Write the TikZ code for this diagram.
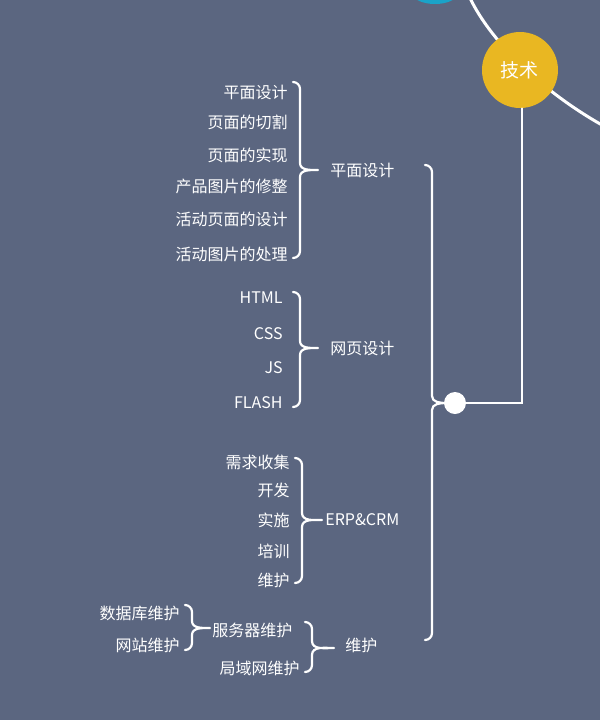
\documentclass[tikz,border=0pt]{standalone}
\usepackage{fontspec}
\setmainfont{Noto Sans CJK SC}
\begin{document}
\begin{tikzpicture}[x=0.5pt,y=-0.5pt,
  txt/.style={text=white,font=\fontsize{8}{10}\selectfont,inner sep=0pt},
  ln/.style={draw=white,line width=1.1pt,line cap=round}]
\definecolor{bg}{HTML}{5B6680}
\definecolor{ylw}{HTML}{E9B722}
\definecolor{teal}{HTML}{1AA3C8}
\fill[bg] (0,0) rectangle (600,720);
\useasboundingbox (0,0) rectangle (600,720);
\begin{scope}
\clip (0,0) rectangle (600,720);
\fill[teal] (435,-6) ellipse (22 and 10);
\draw[ln,line width=1.5pt] (470,-2) .. controls (490,40) and (540,90) .. (602,125);
\end{scope}
\node[circle,fill=ylw,minimum size=38pt,inner sep=0pt,text=white,font=\fontsize{9.5}{11}\selectfont] (root) at (520,70) {技术};
\newcommand{\mybrace}[5]{%
 \draw[ln] (#1-7,#2) to[out=0,in=90] (#1,#2+7) -- (#1,#4-7) to[out=-90,in=180] (#5,#4)
   (#5,#4) to[out=180,in=90] (#1,#4+7) -- (#1,#3-7) to[out=-90,in=0] (#1-7,#3);}
% big
\mybrace{432}{165}{640}{403}{446}
\node[circle,fill=white,minimum size=11pt,inner sep=0pt] (dot) at (455,403) {};
\coordinate (cr) at (522,403);
\draw[ln] (dot) -- (cr) -- (root.south -| cr);
% group1
\foreach \t/\y in {平面设计/92,页面的切割/122,页面的实现/155,产品图片的修整/186,活动页面的设计/219,活动图片的处理/254}
  \node[txt,anchor=east] (g1\y) at (288,\y) {\t};
\mybrace{300}{82}{258}{170}{318}
\node[txt,anchor=west] (pm) at (330,170) {平面设计};
% group2
\foreach \t/\y in {HTML/298,CSS/334,JS/368,FLASH/403}
  \node[txt,anchor=east] (g2\y) at (283,\y) {\t};
\mybrace{300}{292}{407}{348}{318}
\node[txt,anchor=west] (wy) at (330,348) {网页设计};
% group3
\foreach \t/\y in {需求收集/462,开发/490,实施/520,培训/551,维护/580}
  \node[txt,anchor=east] (g3\y) at (290,\y) {\t};
\mybrace{302}{458}{583}{520}{322}
\node[txt,anchor=west] (erp) at (325,520) {ERP\&CRM};
% group4
\node[txt,anchor=east] (sj) at (180,613) {数据库维护};
\node[txt,anchor=east] (wz) at (180,645) {网站维护};
\mybrace{192}{605}{650}{628}{210}
\node[txt,anchor=west] (fw) at (212,630) {服务器维护};
\node[txt,anchor=east] (jy) at (300,668) {局域网维护};
\mybrace{312}{622}{672}{648}{334}
\node[txt,anchor=west] (wh) at (345,645) {维护};
\end{tikzpicture}
\end{document}
